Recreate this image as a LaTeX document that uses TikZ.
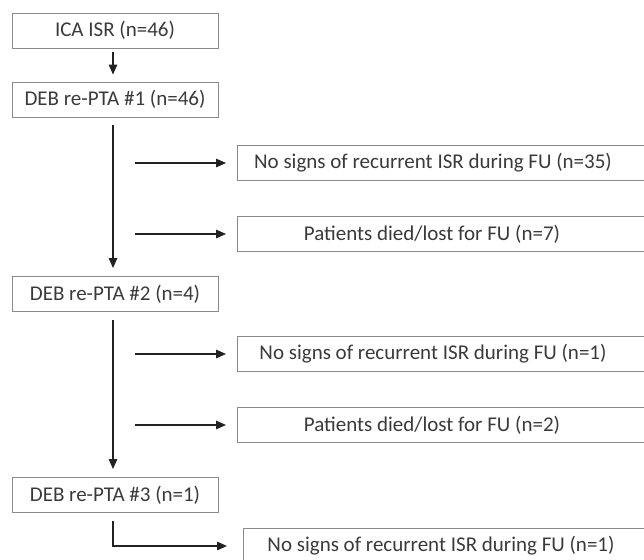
\documentclass[tikz,border=0pt]{standalone}
\usepackage{fontspec}
\setmainfont{Carlito}
\usetikzlibrary{arrows.meta,calc}
\definecolor{boxline}{HTML}{8A8A8A}
\definecolor{txt}{HTML}{3A3A3A}
\definecolor{arrline}{HTML}{222222}
\tikzset{
  lbox/.style={draw=boxline, line width=0.9pt, minimum width=206pt, minimum height=35pt,
    inner sep=0pt, text=txt, font=\fontsize{21}{24}\selectfont},
  rbox/.style={draw=boxline, line width=0.9pt, minimum width=440pt, minimum height=35pt,
    inner sep=0pt, anchor=west},
  lbl/.style={inner sep=0pt, text=txt, font=\fontsize{21}{24}\selectfont},
  arr/.style={draw=arrline, line width=1.3pt, -{Triangle[length=10pt,width=8.5pt]}},
}
\begin{document}
\begin{tikzpicture}[x=1pt,y=-1pt]
\useasboundingbox (0,0) rectangle (644,559);
\clip (0,0) rectangle (644,559);
% left column
\node[lbox] (ica)  at (115,30.5)  {ICA ISR (n=46)};
\node[lbox] (deb1) at (115,99.5)  {DEB re-PTA \#1 (n=46)};
\node[lbox] (deb2) at (115,294)   {DEB re-PTA \#2 (n=4)};
\node[lbox] (deb3) at (115,495)   {DEB re-PTA \#3 (n=1)};
% right boxes
\node[rbox] (r1) at (237,163) {};
\node[rbox] (r2) at (237,234) {};
\node[rbox] (r3) at (237,354) {};
\node[rbox] (r4) at (237,425) {};
\node[rbox] (r5) at (243,546) {};
\node[lbl] (t1) at ([xshift=196pt]r1.west) {No signs of recurrent ISR during FU (n=35)};
\node[lbl] (t2) at ([xshift=195pt]r2.west) {Patients died/lost for FU (n=7)};
\node[lbl] (t3) at ([xshift=196pt]r3.west) {No signs of recurrent ISR during FU (n=1)};
\node[lbl] (t4) at ([xshift=195pt]r4.west) {Patients died/lost for FU (n=2)};
\node[lbl] (t5) at ([xshift=198pt]r5.west) {No signs of recurrent ISR during FU (n=1)};
% vertical arrows
\draw[arr, shorten <=4pt, shorten >=7pt] (ica.south -| 113,0) -- (deb1.north -| 113,0);
\draw[arr, shorten <=8pt, shorten >=8pt] (deb1.south -| 113,0) -- (deb2.north -| 113,0);
\draw[arr, shorten <=8pt, shorten >=8pt] (deb2.south -| 113,0) -- (deb3.north -| 113,0);
% side arrows
\coordinate (s1) at (135,163);
\coordinate (s2) at (135,234);
\coordinate (s3) at (135,354);
\coordinate (s4) at (135,425);
\draw[arr, shorten >=11pt] (s1) -- (r1.west);
\draw[arr, shorten >=11pt] (s2) -- (r2.west);
\draw[arr, shorten >=11pt] (s3) -- (r3.west);
\draw[arr, shorten >=11pt] (s4) -- (r4.west);
% elbow
\draw[arr, shorten <=8pt, shorten >=16pt] (deb3.south -| 113,0) |- (r5.west);
\end{tikzpicture}
\end{document}
